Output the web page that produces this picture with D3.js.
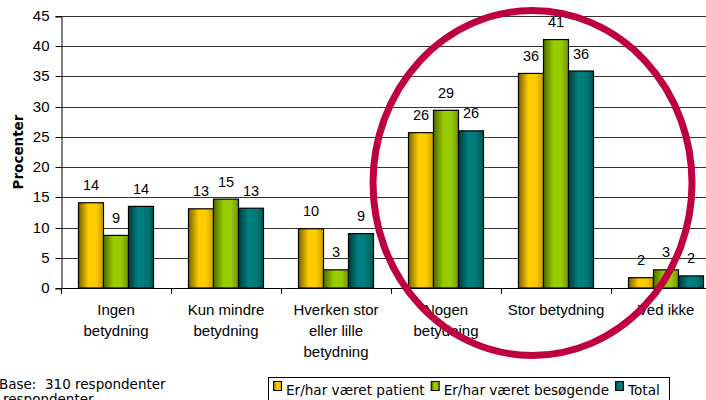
<!DOCTYPE html>
<html>
<head>
<meta charset="utf-8">
<script src="https://cdn.jsdelivr.net/npm/d3@7"></script>
<style>
  body { margin: 0; background: #fff; }
  svg { display: block; }
</style>
</head>
<body>
<div id="chart"></div>
<script>
// categories and values
let categories = ["Ingen betydning", "Kun mindre betydning", "Hverken stor eller lille betydning",
    "Nogen betydning", "Stor betydning", "Ved ikke"];
let categoryLines = [["Ingen", "betydning"], ["Kun mindre", "betydning"], ["Hverken stor", "eller lille", "betydning"],
    ["Nogen", "betydning"], ["Stor betydning"], ["Ved ikke"]];
let seriesNames = ["Er/har været patient", "Er/har været besøgende", "Total"];
let patient = [14.1, 13.1, 9.8, 25.7, 35.5, 1.7];
let visitor = [8.7, 14.7, 3.0, 29.4, 41.1, 3.0];
let total = [13.5, 13.2, 9.0, 26.0, 35.9, 2.0];
let yTicks = [0, 5, 10, 15, 20, 25, 30, 35, 40, 45];

let w = 706;
let h = 400;

let seriesValues = [patient, visitor, total];
let gradients = [
    ["#7a6000", "#ffcc00", "#ffcc00", "#c89c00"],
    ["#4f6b00", "#99cc00", "#99cc00", "#6f9400"],
    ["#003c3c", "#008080", "#007a7a", "#005555"]
];

let svg = d3.select("#chart")
    .append("svg")
    .attr("width", w)
    .attr("height", h);

let defs = svg.append("defs");
gradients.forEach(function (g, i) {
    let lg = defs.append("linearGradient")
        .attr("id", "grad" + i)
        .attr("x1", "0").attr("x2", "1").attr("y1", "0").attr("y2", "0");
    [0, 0.4, 0.7, 1].forEach(function (o, j) {
        lg.append("stop").attr("offset", o).attr("stop-color", g[j]);
    });
});

let x0 = d3.scaleBand()
    .domain(categories)
    .range([61, 721])
    .paddingInner(0);

let x1 = d3.scaleBand()
    .domain(seriesNames)
    .range([0, x0.bandwidth()])
    .paddingInner(0)
    .paddingOuter(0.7);

let y = d3.scaleLinear()
    .domain([0, 45])
    .range([288, 16]);

// grid lines
svg.append("g")
    .selectAll("line")
    .data(yTicks.slice(1))
    .enter()
    .append("line")
    .attr("x1", 61)
    .attr("x2", w)
    .attr("y1", function (d) { return Math.round(y(d)) + 0.5; })
    .attr("y2", function (d) { return Math.round(y(d)) + 0.5; })
    .attr("stroke", "#333")
    .attr("stroke-width", 1);

// y axis
let yAxis = svg.append("g")
    .attr("transform", "translate(61.5,0.5)")
    .call(d3.axisLeft(y).tickValues(yTicks).tickSize(6).tickPadding(6).tickFormat(d3.format("d")));
yAxis.select(".domain").attr("stroke", "#000");
yAxis.selectAll(".tick line").attr("stroke", "#000");
yAxis.selectAll("text")
    .attr("font-family", "'Liberation Sans', Arial, sans-serif")
    .attr("font-size", "15px")
    .attr("fill", "#000");
yAxis.selectAll(".tick").attr("transform", function (d) {
    return "translate(0," + Math.round(y(d)) + ")";
});

svg.append("text")
    .text("Procenter")
    .attr("transform", "translate(23,152) rotate(-90)")
    .attr("text-anchor", "middle")
    .attr("font-family", "'DejaVu Sans', Verdana, sans-serif")
    .attr("font-weight", "bold")
    .attr("font-size", "13.5px");

// bars
let groups = svg.append("g")
    .selectAll("g")
    .data(categories)
    .enter()
    .append("g")
    .attr("transform", function (d) { return "translate(" + x0(d) + ",0)"; });

groups.selectAll("rect")
    .data(function (d, i) {
        return seriesNames.map(function (s, j) { return { s: s, j: j, v: seriesValues[j][i] }; });
    })
    .enter()
    .append("rect")
    .attr("x", function (d) { return x1(d.s); })
    .attr("y", function (d) { return y(d.v); })
    .attr("width", x1.bandwidth())
    .attr("height", function (d) { return y(0) - y(d.v); })
    .attr("fill", function (d) { return "url(#grad" + d.j + ")"; })
    .attr("stroke", "#000")
    .attr("stroke-width", 1.2);

groups.selectAll("text")
    .data(function (d, i) {
        return seriesNames.map(function (s, j) { return { s: s, v: seriesValues[j][i] }; });
    })
    .enter()
    .append("text")
    .text(function (d) { return Math.round(d.v); })
    .attr("x", function (d) { return x1(d.s) + x1.bandwidth() / 2; })
    .attr("y", function (d) { return y(d.v) - 12.5; })
    .attr("text-anchor", "middle")
    .attr("font-family", "'Liberation Sans', Arial, sans-serif")
    .attr("font-size", "14.5px");

// x axis
svg.append("line")
    .attr("x1", 61).attr("x2", w)
    .attr("y1", 288.5).attr("y2", 288.5)
    .attr("stroke", "#000");

svg.append("g")
    .selectAll("line")
    .data(categories)
    .enter()
    .append("line")
    .attr("x1", function (d) { return Math.round(x0(d)) + 0.5; })
    .attr("x2", function (d) { return Math.round(x0(d)) + 0.5; })
    .attr("y1", 288)
    .attr("y2", 294)
    .attr("stroke", "#000");

let xLabels = svg.append("g")
    .selectAll("text")
    .data(categories)
    .enter()
    .append("text")
    .attr("text-anchor", "middle")
    .attr("font-family", "'Liberation Sans', Arial, sans-serif")
    .attr("font-size", "15px");

xLabels.selectAll("tspan")
    .data(function (d, i) { return categoryLines[i].map(function (l) { return { l: l, c: d }; }); })
    .enter()
    .append("tspan")
    .attr("x", function (d) { return x0(d.c) + x0.bandwidth() / 2; })
    .attr("y", function (d, k) { return 315 + k * 21; })
    .text(function (d) { return d.l; });

// footnote
svg.append("text")
    .attr("x", -1)
    .attr("y", 389)
    .attr("font-family", "'DejaVu Sans', Verdana, sans-serif")
    .attr("font-size", "13.5px")
    .style("white-space", "pre")
    .text("Base:  310 respondenter");

svg.append("text")
    .attr("x", 3)
    .attr("y", 404)
    .attr("font-family", "'DejaVu Sans', Verdana, sans-serif")
    .attr("font-size", "13.5px")
    .text("respondenter");

// legend
let legend = svg.append("g");
legend.append("rect")
    .attr("x", 268.5)
    .attr("y", 377.5)
    .attr("width", 401)
    .attr("height", 40)
    .attr("fill", "#fff")
    .attr("stroke", "#000");

let lx = 273;
seriesNames.forEach(function (s, i) {
    legend.append("rect")
        .attr("x", lx + 0.5)
        .attr("y", 381.5)
        .attr("width", 8)
        .attr("height", 9)
        .attr("fill", "url(#grad" + i + ")")
        .attr("stroke", "#000");
    let t = legend.append("text")
        .attr("x", lx + 13)
        .attr("y", 395)
        .attr("font-family", "'DejaVu Sans', Verdana, sans-serif")
        .attr("font-size", "13.6px")
        .text(s);
    lx = lx + 13 + t.node().getComputedTextLength() + 6;
});

// highlight ring
svg.append("ellipse")
    .attr("cx", 532.5)
    .attr("cy", 183)
    .attr("rx", 159.5)
    .attr("ry", 172.5)
    .attr("fill", "none")
    .attr("stroke", "#bf0040")
    .attr("stroke-width", 7);
</script>
</body>
</html>
